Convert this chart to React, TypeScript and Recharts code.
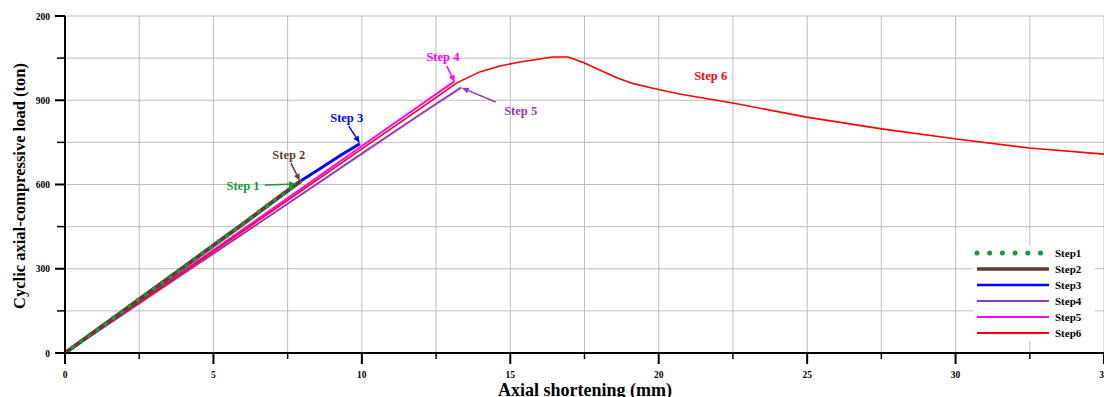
import {
  LineChart, Line, XAxis, YAxis, CartesianGrid, Legend,
  ReferenceLine, ReferenceDot, Label,
} from 'recharts'

interface Pt {
  x: number
  y: number
}

const FONT = '"Liberation Serif", "Times New Roman", serif'

// axial shortening (mm) / load (ton)
const step1: Pt[] = [
  { x: 0, y: 0 }, { x: 1, y: 76 }, { x: 2, y: 153 }, { x: 3, y: 229 }, { x: 4, y: 306 },
  { x: 5, y: 383 }, { x: 6, y: 460 }, { x: 7, y: 539 }, { x: 7.8, y: 603 },
]
const step2: Pt[] = [
  { x: 0, y: 0 }, { x: 1, y: 76 }, { x: 2, y: 153 }, { x: 3, y: 229 }, { x: 4, y: 306 },
  { x: 5, y: 383 }, { x: 6, y: 460 }, { x: 7, y: 539 }, { x: 7.95, y: 613 },
]
const step3: Pt[] = [
  { x: 7.95, y: 613 }, { x: 8.6, y: 657 }, { x: 9.3, y: 705 }, { x: 9.93, y: 745 },
]
const step4: Pt[] = [
  { x: 0, y: 0 }, { x: 2, y: 141 }, { x: 4, y: 283 }, { x: 6, y: 425 }, { x: 8, y: 567 },
  { x: 10, y: 710 }, { x: 12, y: 852 }, { x: 13.35, y: 946 },
]
const step5: Pt[] = [
  { x: 0, y: 0 }, { x: 2, y: 146 }, { x: 4, y: 293 }, { x: 6, y: 440 }, { x: 8, y: 588 },
  { x: 10, y: 737 }, { x: 12, y: 885 }, { x: 13.12, y: 967 },
]
const step6: Pt[] = [
  { x: 0, y: 0 }, { x: 2, y: 144 }, { x: 4, y: 289 }, { x: 6, y: 434 }, { x: 8, y: 580 },
  { x: 10, y: 727 }, { x: 12, y: 873 }, { x: 13.2, y: 962 }, { x: 13.97, y: 1001 },
  { x: 14.65, y: 1022 }, { x: 15.32, y: 1036 }, { x: 15.99, y: 1047 }, { x: 16.43, y: 1054 },
  { x: 16.94, y: 1054 }, { x: 17.44, y: 1035 }, { x: 18.01, y: 1008 }, { x: 18.59, y: 980 },
  { x: 19.12, y: 960 }, { x: 19.8, y: 943 }, { x: 20.7, y: 922 }, { x: 22.49, y: 890 },
  { x: 24.98, y: 840 }, { x: 27.51, y: 798 }, { x: 30.03, y: 762 }, { x: 32.49, y: 730 },
  { x: 35, y: 708 },
]

const xTicks = [0, 2.5, 5, 7.5, 10, 12.5, 15, 17.5, 20, 22.5, 25, 27.5, 30, 32.5, 35]
const xTickLabels = ['0', '', '5', '', '10', '', '15', '', '20', '', '25', '', '30', '', '35']
const yTicks = [0, 150, 300, 450, 600, 750, 900, 1050, 1200]
const yTickLabels = ['0', '', '300', '', '600', '', '900', '', '200']

const GREEN = '#16993a'
const BROWN = '#6b3838'
const BLUE = '#0000ff'
const PURPLE = '#9933cc'
const MAGENTA = '#ff00ff'
const RED = '#ff0000'

const legendItems = [
  { name: 'Step1', color: GREEN, width: 5, dots: true },
  { name: 'Step2', color: BROWN, width: 3.5, dots: false },
  { name: 'Step3', color: BLUE, width: 2.5, dots: false },
  { name: 'Step4', color: PURPLE, width: 1.8, dots: false },
  { name: 'Step5', color: MAGENTA, width: 1.8, dots: false },
  { name: 'Step6', color: RED, width: 1.8, dots: false },
]

// callouts: text position, arrow tail, arrow head
const notes = [
  { text: 'Step 1', color: GREEN, at: { x: 6.0, y: 595 }, from: { x: 6.73, y: 598 }, to: { x: 7.78, y: 602 } },
  { text: 'Step 2', color: BROWN, at: { x: 7.54, y: 705 }, from: { x: 7.61, y: 677 }, to: { x: 7.91, y: 613 } },
  { text: 'Step 3', color: BLUE, at: { x: 9.49, y: 837 }, from: { x: 9.56, y: 808 }, to: { x: 9.93, y: 748 } },
  { text: 'Step 4', color: MAGENTA, at: { x: 12.73, y: 1054 }, from: { x: 12.86, y: 1022 }, to: { x: 13.13, y: 965 } },
  { text: 'Step 5', color: PURPLE, at: { x: 15.35, y: 862 }, from: { x: 14.51, y: 894 }, to: { x: 13.37, y: 944 } },
  { text: 'Step 6', color: RED, at: { x: 21.75, y: 986 }, from: null, to: null },
]

const XTick = (props: any) => {
  const { x, y, payload } = props
  const i = xTicks.indexOf(payload.value)
  const label = xTickLabels[i] ?? ''
  const major = label !== ''
  return (
    <g>
      <line x1={x} x2={x} y1={y} y2={y + (major ? 11 : 6)} stroke="#000" strokeWidth={major ? 2 : 1.5} />
      {major && (
        <text x={x} y={y + 25} textAnchor="middle" fontFamily={FONT} fontWeight="bold" fontSize={9.5} fill="#000">
          {label}
        </text>
      )}
    </g>
  )
}

const YTick = (props: any) => {
  const { x, y, payload } = props
  const i = yTicks.indexOf(payload.value)
  const label = yTickLabels[i] ?? ''
  const major = label !== ''
  return (
    <g>
      <line x1={x - (major ? 10 : 8)} x2={x} y1={y} y2={y} stroke="#000" strokeWidth={major ? 2 : 1.5} />
      {major && (
        <text x={x - 15} y={y + 3.5} textAnchor="end" fontFamily={FONT} fontWeight="bold" fontSize={9.5} fill="#000">
          {label}
        </text>
      )}
    </g>
  )
}

const arrow = (color: string) => (p: any) => {
  const { x1, y1, x2, y2 } = p
  const a = Math.atan2(y2 - y1, x2 - x1)
  const L = 7
  const W = 3
  const bx = x2 - L * Math.cos(a)
  const by = y2 - L * Math.sin(a)
  const nx = -Math.sin(a) * W
  const ny = Math.cos(a) * W
  return (
    <g>
      <line x1={x1} y1={y1} x2={bx} y2={by} stroke={color} strokeWidth={1.5} />
      <path d={`M${x2},${y2} L${bx + nx},${by + ny} L${bx - nx},${by - ny} Z`} fill={color} />
    </g>
  )
}

const noteText = (text: string, color: string) => (p: any) => (
  <text x={p.cx} y={p.cy + 4} textAnchor="middle" fontFamily={FONT} fontWeight="bold" fontSize={12.5} fill={color}>
    {text}
  </text>
)

const LegendBox = () => (
  <div style={{ background: '#fff', width: 122, fontFamily: FONT, fontWeight: 'bold', fontSize: 11, color: '#000' }}>
    {legendItems.map((it) => (
      <div key={it.name} style={{ display: 'flex', alignItems: 'center', height: 16 }}>
        <svg width={82} height={16} style={{ display: 'block' }}>
          <line
            x1={4} x2={76} y1={8} y2={8}
            stroke={it.color}
            strokeWidth={it.width}
            strokeLinecap={it.dots ? 'round' : 'butt'}
            strokeDasharray={it.dots ? '0 12.7' : undefined}
          />
        </svg>
        <span style={{ lineHeight: '16px' }}>{it.name}</span>
      </div>
    ))}
  </div>
)

export default function App() {
  return (
    <div style={{ position: 'absolute', left: 0, top: 0, width: 1104, height: 397, overflow: 'hidden', background: '#fff' }}>
      <LineChart width={1104} height={397} margin={{ top: 16, right: 0, bottom: 0, left: 0 }}>
        <CartesianGrid stroke="#bdbdbd" strokeWidth={1} />
        <XAxis
          dataKey="x"
          type="number"
          domain={[0, 35]}
          ticks={xTicks}
          interval={0}
          height={44}
          tickSize={0}
          tickMargin={0}
          tick={<XTick />}
          axisLine={{ stroke: '#000', strokeWidth: 2 }}
          allowDataOverflow
        >
          <Label
            content={() => (
              <text x={585} y={396} textAnchor="middle" fontFamily={FONT} fontWeight="bold" fontSize={18} fill="#000">
                Axial shortening (mm)
              </text>
            )}
          />
        </XAxis>
        <YAxis
          type="number"
          domain={[0, 1200]}
          ticks={yTicks}
          interval={0}
          width={65}
          tickSize={0}
          tickMargin={0}
          tick={<YTick />}
          axisLine={{ stroke: '#000', strokeWidth: 2 }}
          allowDataOverflow
        >
          <Label
            content={() => (
              <text
                x={25} y={186}
                transform="rotate(-90 25 186)"
                textAnchor="middle"
                fontFamily={FONT} fontWeight="bold" fontSize={16.5} fill="#000"
              >
                Cyclic axial-compressive load (ton)
              </text>
            )}
          />
        </YAxis>
        <Line data={step4} dataKey="y" stroke={PURPLE} strokeWidth={2} dot={false} isAnimationActive={false} />
        <Line data={step5} dataKey="y" stroke={MAGENTA} strokeWidth={2} dot={false} isAnimationActive={false} />
        <Line data={step6} dataKey="y" stroke={RED} strokeWidth={1.6} dot={false} isAnimationActive={false} />
        <Line data={step3} dataKey="y" stroke={BLUE} strokeWidth={3} dot={false} isAnimationActive={false} />
        <Line data={step2} dataKey="y" stroke={BROWN} strokeWidth={4} dot={false} isAnimationActive={false} />
        <Line
          data={step1} dataKey="y" stroke={GREEN} strokeWidth={4.5}
          strokeDasharray="0 10" strokeLinecap="round"
          dot={false} isAnimationActive={false}
        />
        {notes.map((n) =>
          n.from && n.to ? (
            <ReferenceLine
              key={n.text + '-arrow'}
              segment={[n.from, n.to]}
              stroke={n.color}
              ifOverflow="visible"
              shape={arrow(n.color)}
            />
          ) : null,
        )}
        {notes.map((n) => (
          <ReferenceDot
            key={n.text}
            x={n.at.x}
            y={n.at.y}
            r={1}
            ifOverflow="visible"
            shape={noteText(n.text, n.color)}
          />
        ))}
        <Legend
          layout="horizontal"
          verticalAlign="middle"
          align="center"
          content={<LegendBox />}
          wrapperStyle={{ left: 973, top: 245, width: 122, height: 96 }}
        />
      </LineChart>
    </div>
  )
}
